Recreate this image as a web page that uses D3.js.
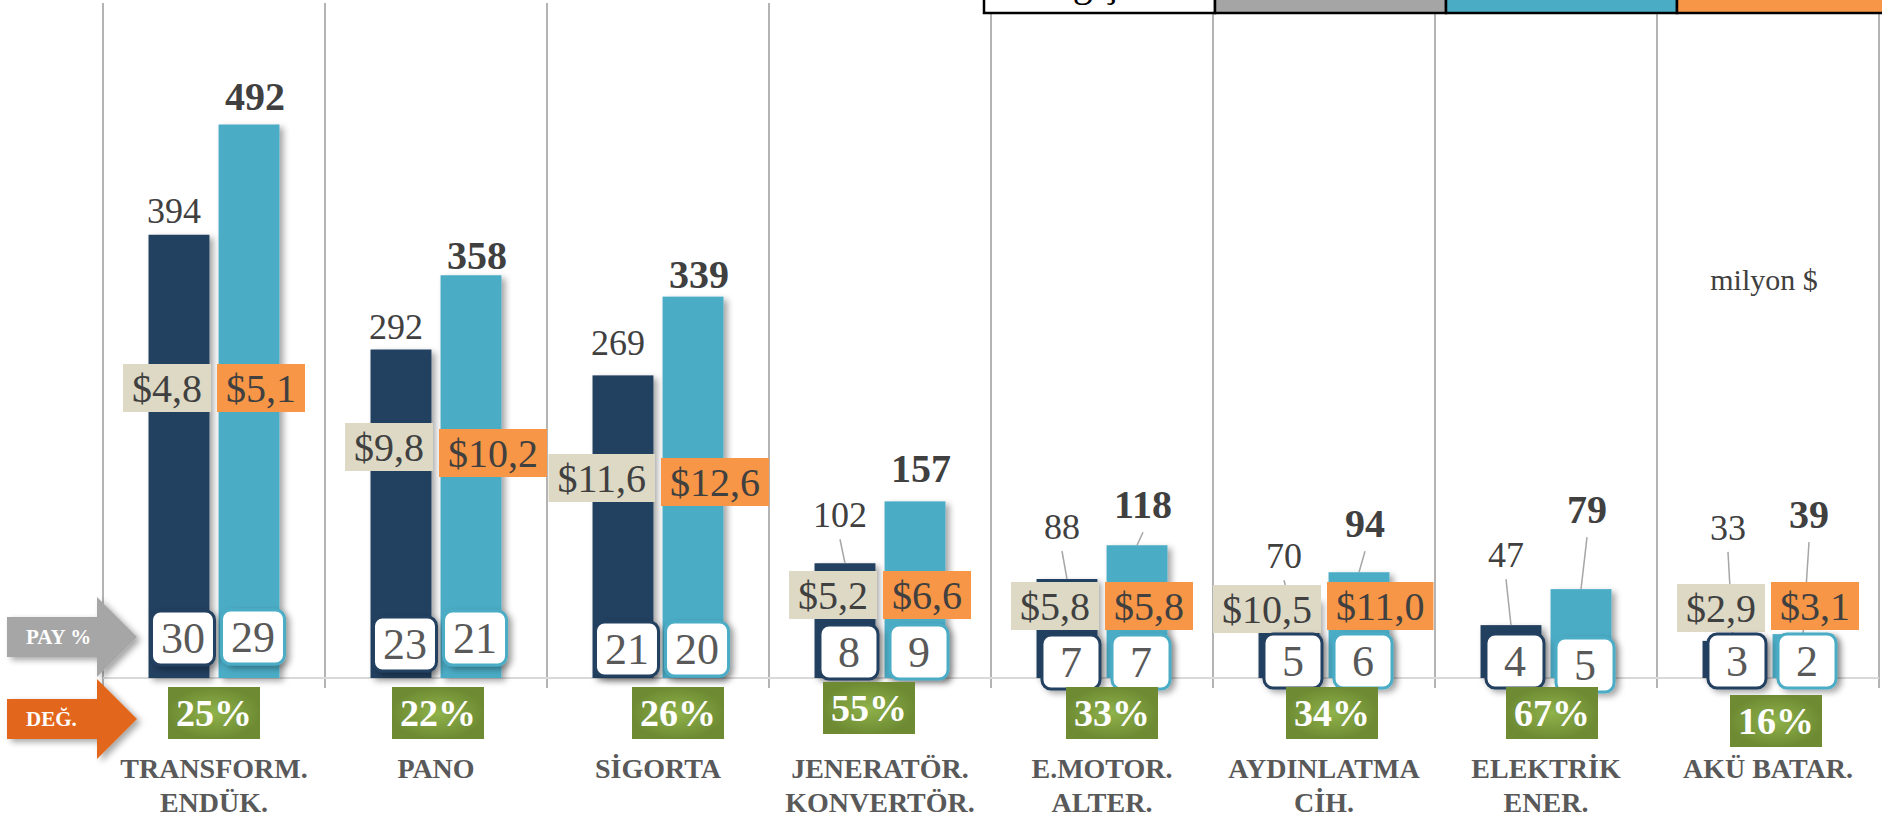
<!DOCTYPE html>
<html>
<head>
  <meta charset="utf-8">
  <script src="https://d3js.org/d3.v7.min.js"></script>
  <style>
  body {
    margin: 0;
    background: #ffffff;
  }
  svg {
    display: block;
    font-family: "Liberation Serif", "Times New Roman", serif;
  }
  </style>
</head>
<body>
  <script>
  var w = 1882;
  var h = 820;

  //Chart data
  var categories = [["TRANSFORM.", "ENDÜK."], ["PANO"], ["SİGORTA"], ["JENERATÖR.", "KONVERTÖR."],
    ["E.MOTOR.", "ALTER."], ["AYDINLATMA", "CİH."], ["ELEKTRİK", "ENER."], ["AKÜ BATAR."]];
  var series = ["2013", "2014"];
  var values2013 = [394, 292, 269, 102, 88, 70, 47, 33];
  var values2014 = [492, 358, 339, 157, 118, 94, 79, 39];
  var price2013 = [4.8, 9.8, 11.6, 5.2, 5.8, 10.5, null, 2.9];
  var price2014 = [5.1, 10.2, 12.6, 6.6, 5.8, 11.0, null, 3.1];
  var share2013 = [30, 23, 21, 8, 7, 5, 4, 3];
  var share2014 = [29, 21, 20, 9, 7, 6, 5, 2];
  var change = [25, 22, 26, 55, 33, 34, 67, 16];
  var legendLabels = ["Değişim", "", "", ""];

  //Hand placed labels, as they sit on the original slide (pixels)
  var labelGap2013 = [12, 11, 20, 36, 40, 31, 58, 101];
  var labelGap2014 = [15, 6, 9, 19, 27, 35, 66, 106];
  var priceLift2013 = [290, 231, 200, 83, 72, 69, 0, 70];
  var priceLift2014 = [290, 225, 196, 83, 72, 72, 0, 72];
  var shareLift2013 = [40, 34, 29, 26, 16, 17, 17, 17];
  var shareLift2014 = [41, 40, 29, 26, 16, 17, 13, 17];
  var changeShift = [0, 2, 20, -11, 10, 8, 6, 8];
  var changeDrop = [9, 9, 9, 4, 9, 9, 9, 17];

  var colors = {"2013": "#243F60", "2014": "#4BACC6"};
  var priceFill = {"2013": "#DDD9C4", "2014": "#F79646"};

  //Turkish number format for the $ labels
  var tr = d3.formatLocale({decimal: ",", thousands: ".", grouping: [3], currency: ["$", ""]});
  var fmtPrice = tr.format("$.1f");

  var svg = d3.select("body")
    .append("svg")
    .attr("width", w)
    .attr("height", h);

  //Scales
  var x = d3.scaleBand()
    .domain(d3.range(categories.length))
    .range([103, 1879]);
  var xs = d3.scaleBand()
    .domain(series)
    .range([0, x.bandwidth()])
    .paddingInner(0.13)
    .paddingOuter(0.65);
  var y = d3.scaleLinear()
    .domain([0, 600])
    .range([678, 3]);

  //Shadows and gradient
  var defs = svg.append("defs");
  var shadow = defs.append("filter").attr("id", "shadow")
    .attr("x", "-30%").attr("y", "-30%").attr("width", "170%").attr("height", "170%");
  shadow.append("feDropShadow")
    .attr("dx", 4).attr("dy", 3).attr("stdDeviation", 3)
    .attr("flood-color", "#000").attr("flood-opacity", 0.35);
  var green = defs.append("radialGradient").attr("id", "green");
  green.append("stop").attr("offset", "0%").attr("stop-color", "#8FB24A");
  green.append("stop").attr("offset", "100%").attr("stop-color", "#6E8B33");

  //One record per bar
  var bars = [];
  categories.forEach(function(c, i){
    bars.push({i: i, s: "2013", v: values2013[i], price: price2013[i], share: share2013[i],
      gap: labelGap2013[i], priceLift: priceLift2013[i], shareLift: shareLift2013[i]});
    bars.push({i: i, s: "2014", v: values2014[i], price: price2014[i], share: share2014[i],
      gap: labelGap2014[i], priceLift: priceLift2014[i], shareLift: shareLift2014[i]});
  });

  function barX(d){ return x(d.i) + xs(d.s); }
  function barMid(d){ return x(d.i) + xs(d.s) + xs.bandwidth() / 2; }
  function pairMid(i){ return x(i) + x.bandwidth() / 2; }
  function labelX(d){ return barMid(d) + (d.s == "2013" ? -5 : 6); }
  function labelY(d){ return y(d.v) - d.gap; }

  //Vertical category separators
  var edges = x.domain().map(function(i){ return x(i); }).concat([x.range()[1]]);
  svg.append("g")
    .selectAll("line")
    .data(edges)
    .enter()
    .append("line")
      .attr("x1", function(d){ return d; })
      .attr("x2", function(d){ return d; })
      .attr("y1", y(600))
      .attr("y2", y(0) + 10)
      .style("stroke", "#B4B4B4")
      .style("stroke-width", "2px");

  //Baseline
  svg.append("line")
    .attr("x1", x.range()[0]).attr("x2", x.range()[1])
    .attr("y1", y(0)).attr("y2", y(0))
    .style("stroke", "#D9D9D9")
    .style("stroke-width", "2px");

  //Bars
  svg.append("g")
    .selectAll("rect")
    .data(bars)
    .enter()
    .append("rect")
      .attr("x", barX)
      .attr("y", function(d){ return y(d.v); })
      .attr("width", xs.bandwidth())
      .attr("height", function(d){ return y(0) - y(d.v); })
      .attr("fill", function(d){ return colors[d.s]; })
      .attr("filter", "url(#shadow)");

  //Leader lines from moved labels back to their bar
  svg.append("g")
    .selectAll("line")
    .data(bars.filter(function(d){ return y(d.v) - (labelY(d) + 12) > 10; }))
    .enter()
    .append("line")
      .attr("x1", labelX)
      .attr("y1", function(d){ return labelY(d) + (d.s == "2013" ? 12 : 14); })
      .attr("x2", barMid)
      .attr("y2", function(d){ return y(d.v); })
      .style("stroke", "#A6A6A6")
      .style("stroke-width", "1.5px");

  //Value labels
  svg.append("g")
    .selectAll("text")
    .data(bars)
    .enter()
    .append("text")
      .attr("x", labelX)
      .attr("y", labelY)
      .attr("text-anchor", "middle")
      .attr("font-size", function(d){ return d.s == "2013" ? 36 : 40; })
      .attr("font-weight", function(d){ return d.s == "2013" ? "normal" : "bold"; })
      .attr("fill", "#404040")
      .text(function(d){ return d.v; });

  //$ boxes
  var priceG = svg.append("g")
    .selectAll("g")
    .data(bars.filter(function(d){ return d.price != null; }))
    .enter()
    .append("g");
  priceG.append("text")
    .attr("font-size", 40)
    .attr("fill", "#404040")
    .attr("text-anchor", "middle")
    .text(function(d){ return fmtPrice(d.price); });
  priceG.each(function(d){
    var g = d3.select(this);
    var tw = g.select("text").node().getComputedTextLength();
    var bw = tw + 18;
    var cy = y(0) - d.priceLift;
    var left = d.s == "2013" ? pairMid(d.i) - 3 - bw : pairMid(d.i) + 3;
    g.insert("rect", "text")
      .attr("x", left)
      .attr("y", cy - 24)
      .attr("width", bw)
      .attr("height", 48)
      .attr("fill", priceFill[d.s]);
    g.select("text")
      .attr("x", left + bw / 2)
      .attr("y", cy + 14);
  });

  //Share (PAY %) boxes
  var shareG = svg.append("g")
    .selectAll("g")
    .data(bars)
    .enter()
    .append("g");
  shareG.append("text")
    .attr("font-size", 44)
    .attr("fill", "#595959")
    .attr("text-anchor", "middle")
    .text(function(d){ return d.share; });
  shareG.each(function(d){
    var g = d3.select(this);
    var tw = g.select("text").node().getComputedTextLength();
    var bw = Math.max(58, tw + 19);
    var cx = barMid(d) + 4;
    var cy = y(0) - d.shareLift;
    g.insert("rect", "text")
      .attr("x", cx - bw / 2)
      .attr("y", cy - 27)
      .attr("width", bw)
      .attr("height", 54)
      .attr("rx", 9)
      .attr("fill", "#ffffff")
      .attr("stroke", colors[d.s])
      .attr("stroke-width", 3)
      .attr("filter", "url(#shadow)");
    g.select("text")
      .attr("x", cx)
      .attr("y", cy + 15);
  });

  //Change (DEĞ.) boxes
  var changeG = svg.append("g")
    .selectAll("g")
    .data(change)
    .enter()
    .append("g");
  changeG.append("rect")
    .attr("x", function(d, i){ return pairMid(i) + changeShift[i] - 46; })
    .attr("y", function(d, i){ return y(0) + changeDrop[i]; })
    .attr("width", 92)
    .attr("height", 52)
    .attr("fill", "url(#green)");
  changeG.append("text")
    .attr("x", function(d, i){ return pairMid(i) + changeShift[i]; })
    .attr("y", function(d, i){ return y(0) + changeDrop[i] + 39; })
    .attr("text-anchor", "middle")
    .attr("font-size", 38)
    .attr("font-weight", "bold")
    .attr("fill", "#ffffff")
    .text(function(d){ return d + "%"; });

  //Category labels
  svg.append("g")
    .selectAll("text")
    .data(categories)
    .enter()
    .append("text")
      .attr("text-anchor", "middle")
      .attr("font-size", 28)
      .attr("font-weight", "bold")
      .attr("fill", "#595959")
      .each(function(lines, i){
        d3.select(this).selectAll("tspan")
          .data(lines)
          .enter()
          .append("tspan")
            .attr("x", pairMid(i))
            .attr("y", function(d, k){ return 778 + k * 34; })
            .text(function(d){ return d; });
      });

  //Row arrows on the left
  function arrow(cy, fill, label){
    var p = d3.path();
    p.moveTo(7, cy - 20);
    p.lineTo(97, cy - 20);
    p.lineTo(97, cy - 40);
    p.lineTo(137, cy);
    p.lineTo(97, cy + 40);
    p.lineTo(97, cy + 20);
    p.lineTo(7, cy + 20);
    p.closePath();
    svg.append("path")
      .attr("d", p.toString())
      .attr("fill", fill)
      .attr("filter", "url(#shadow)");
    svg.append("text")
      .attr("x", 26)
      .attr("y", cy + 7)
      .attr("font-size", 21)
      .attr("font-weight", "bold")
      .attr("fill", "#ffffff")
      .text(label);
  }
  arrow(637, "#A6A6A6", "PAY %");
  arrow(719, "#E2661C", "DEĞ.");

  //Legend strip, cut by the top edge
  var legendFill = ["#ffffff", "#A5A5A5", "#4BACC6", "#F79646"];
  var legend = svg.append("g")
    .selectAll("g")
    .data(legendLabels)
    .enter()
    .append("g");
  legend.append("rect")
    .attr("x", function(d, i){ return 984 + i * 231; })
    .attr("y", -40)
    .attr("width", function(d, i){ return i == 3 ? 260 : 231; })
    .attr("height", 53)
    .attr("fill", function(d, i){ return legendFill[i]; })
    .attr("stroke", "#000000")
    .attr("stroke-width", 2.5);
  legend.append("text")
    .attr("x", function(d, i){ return 984 + i * 231 + 110; })
    .attr("y", -4)
    .attr("text-anchor", "middle")
    .attr("font-size", 40)
    .attr("fill", "#000000")
    .text(function(d){ return d; });

  //Unit note
  svg.append("text")
    .attr("x", pairMid(7) - 4)
    .attr("y", 290)
    .attr("text-anchor", "middle")
    .attr("font-size", 30)
    .attr("fill", "#404040")
    .text("milyon $");
  </script>
</body>
</html>
